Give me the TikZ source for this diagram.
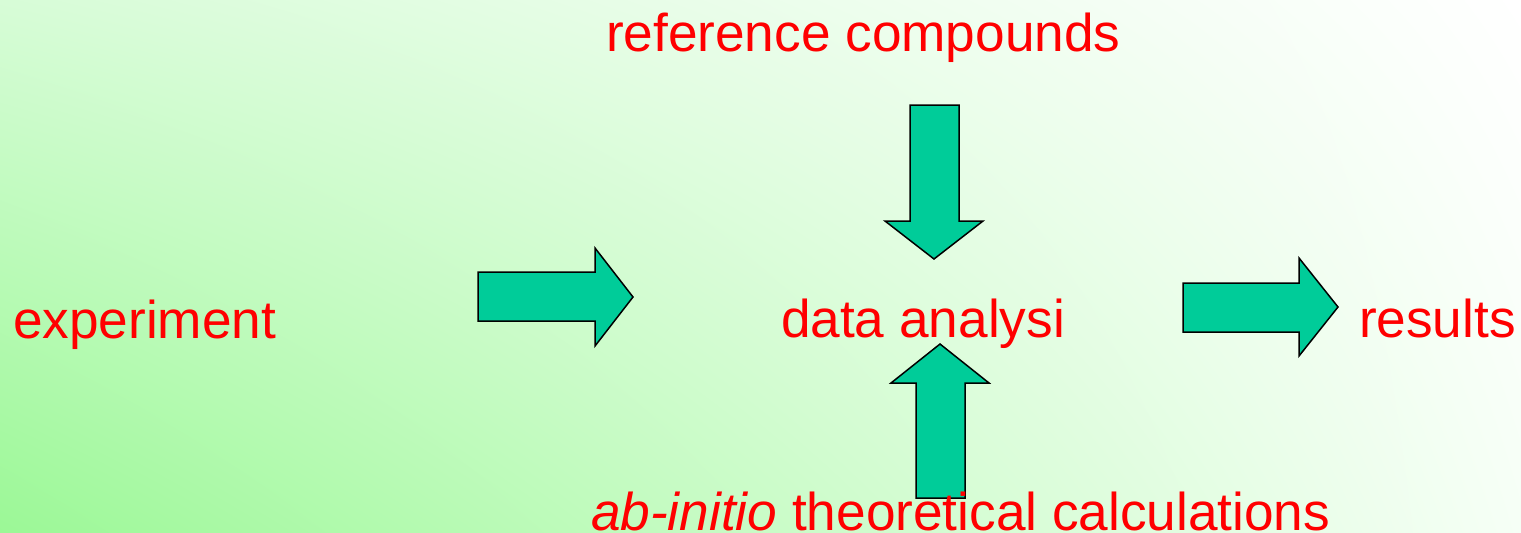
\documentclass[tikz,border=0pt]{standalone}
\usepackage{fontspec}
\setmainfont{Liberation Sans}
\usetikzlibrary{shadings}
\definecolor{bgLL}{RGB}{155,248,150}
\definecolor{bgUL}{RGB}{215,252,215}
\definecolor{bgLR}{RGB}{246,255,246}
\definecolor{arrowfill}{RGB}{0,204,153}
\tikzset{
  lbl/.style={anchor=base west, inner sep=0pt, outer sep=0pt, text=red, font=\fontsize{26.6pt}{31pt}\selectfont},
  blockarrow/.style={draw=black, fill=arrowfill, line width=0.75pt, line join=miter}
}
\begin{document}
\begin{tikzpicture}[x=0.5pt,y=-0.5pt]
\useasboundingbox (0,0) rectangle (1521,532);
\shade[lower left=bgLL, upper left=bgUL, lower right=bgLR, upper right=white] (0,532) rectangle (1521,0);
% block arrows
\draw[blockarrow] (478,272) -- (595,272) -- (595,248) -- (633,297) -- (595,346) -- (595,321) -- (478,321) -- cycle;
\draw[blockarrow] (1183,283) -- (1299,283) -- (1299,258) -- (1338,307) -- (1299,356) -- (1299,332) -- (1183,332) -- cycle;
\draw[blockarrow] (910,105) -- (959,105) -- (959,221) -- (983,221) -- (934,259) -- (885,221) -- (910,221) -- cycle;
\draw[blockarrow] (916,498) -- (916,383) -- (891,383) -- (940,344) -- (989,383) -- (965,383) -- (965,498) -- cycle;
% labels
\node[lbl] (ref) at (606,51) {reference compounds};
\node[lbl] (exp) at (13,338) {experiment};
\node[lbl] (data) at (781,337) {data analysi};
\node[lbl] (res) at (1359,337) {results};
\node[lbl] (abi) at (591,530) {\textit{ab-initio} theoretical calculations};
\end{tikzpicture}
\end{document}
